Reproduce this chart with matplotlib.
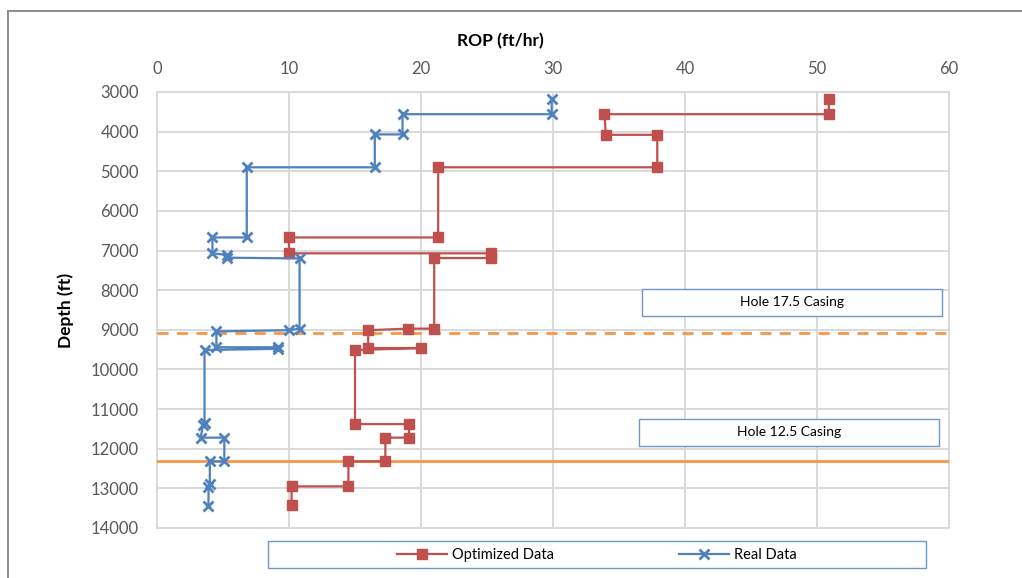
import matplotlib
matplotlib.use("Agg")
import matplotlib.pyplot as plt
from matplotlib.patches import Rectangle
from matplotlib.lines import Line2D

# ---------------- data ----------------
opt_rop = [50.9, 50.9, 33.9, 34.0, 37.9, 37.9, 21.3, 21.3, 10.0, 10.0, 25.3, 25.3,
           21.0, 21.0, 19.0, 16.0, 16.0, 20.0, 15.0, 15.0, 19.1, 19.1, 17.3, 17.3,
           14.5, 14.5, 10.2, 10.2]
opt_depth = [3180, 3560, 3560, 4080, 4080, 4900, 4900, 6670, 6670, 7070, 7070, 7190,
             7190, 8970, 8970, 9010, 9460, 9460, 9510, 11380, 11380, 11720, 11720, 12320,
             12320, 12950, 12950, 13420]

real_rop = [29.9, 29.9, 18.6, 18.6, 16.5, 16.5, 6.8, 6.8, 4.2, 4.2, 5.3, 5.3,
            10.8, 10.8, 10.0, 4.5, 4.5, 9.2, 9.2, 3.6, 3.6, 3.5, 3.3, 5.1, 5.1,
            4.0, 4.0, 3.9, 3.9]
real_depth = [3180, 3560, 3560, 4070, 4070, 4900, 4900, 6670, 6670, 7070, 7110, 7180,
              7200, 8970, 9010, 9040, 9440, 9440, 9480, 9510, 11350, 11400, 11720, 11720,
              12320, 12320, 12900, 12970, 13440]

casing_17_depth = 9085
casing_12_depth = 12300

x_ticks = [0, 10, 20, 30, 40, 50, 60]
y_ticks = [3000, 4000, 5000, 6000, 7000, 8000, 9000, 10000, 11000, 12000, 13000, 14000]

RED = "#C0504D"
BLUE = "#4F81BD"
ORANGE = "#F79646"
GRID = "#D9D9D9"
TICK = "#595959"
FONT = ["Lato", "DejaVu Sans"]

plt.rcParams["font.family"] = FONT

W, H = 1022, 578
fig = plt.figure(figsize=(W / 100, H / 100), dpi=100)

def fx(px):
    return px / W

def fy(py):
    return 1 - py / H

# outer chart border (extends off the picture to the right and bottom)
fig.patches.append(Rectangle((fx(8), fy(640)), fx(1100) - fx(8), fy(11) - fy(640),
                             transform=fig.transFigure, fill=False,
                             edgecolor="#8C8C8C", lw=1.4, zorder=0))

ax = fig.add_axes([fx(157), fy(528), fx(949) - fx(157), fy(92) - fy(528)])

ax.plot(opt_rop, opt_depth, color=RED, lw=1.6, marker="s", markersize=7.5,
        markerfacecolor=RED, markeredgecolor=RED, label="Optimized Data", zorder=4)
ax.plot(real_rop, real_depth, color=BLUE, lw=1.6, marker="x", markersize=6.5,
        markeredgewidth=2, markeredgecolor=BLUE, label="Real Data", zorder=5)

ax.axhline(casing_17_depth, color=ORANGE, lw=2, ls=(0, (4, 3)), zorder=3)
ax.axhline(casing_12_depth, color=ORANGE, lw=2, zorder=3)

ax.set_xlim(0, 60)
ax.set_ylim(14000, 3000)
ax.set_xticks(x_ticks)
ax.set_yticks(y_ticks)
ax.xaxis.tick_top()
ax.tick_params(axis="both", length=0, labelsize=12, colors=TICK)
ax.tick_params(axis="x", pad=11)
ax.tick_params(axis="y", pad=13)
ax.grid(True, color=GRID, lw=1.4, zorder=0)
ax.set_axisbelow(True)
for s in ax.spines.values():
    s.set_color(GRID)
    s.set_linewidth(1.4)

fig.text(fx(500), fy(41), "ROP (ft/hr)", ha="center", va="center",
         fontsize=12.5, fontweight="bold", color="black")
fig.text(fx(66), fy(310), "Depth (ft)", ha="center", va="center", rotation=90,
         fontsize=12.5, fontweight="bold", color="black")

# casing annotation boxes
def label_box(x0, y0, x1, y1, text):
    fig.patches.append(Rectangle((fx(x0), fy(y1)), fx(x1) - fx(x0), fy(y0) - fy(y1),
                                 transform=fig.transFigure, facecolor="white",
                                 edgecolor="#6F94C9", lw=1.0, zorder=6))
    fig.text(fx((x0 + x1) / 2), fy((y0 + y1) / 2), text, ha="center", va="center",
             fontsize=10, color="black", zorder=7)

label_box(642, 289, 942, 316, "Hole 17.5 Casing")
label_box(639, 419, 939, 446, "Hole 12.5 Casing")

# legend
fig.patches.append(Rectangle((fx(268), fy(568)), fx(926) - fx(268), fy(541) - fy(568),
                             transform=fig.transFigure, facecolor="white",
                             edgecolor="#6F94C9", lw=1.0, zorder=1))
handles = [
    Line2D([], [], color=RED, lw=1.6, marker="s", markersize=7.5),
    Line2D([], [], color=BLUE, lw=1.6, marker="x", markersize=6.5, markeredgewidth=2),
]
fig.legend(handles, ["Optimized Data", "Real Data"], loc="center",
           bbox_to_anchor=(fx(597), fy(555)), ncol=2, frameon=False,
           fontsize=10.5, handlelength=3.4, handletextpad=0.35,
           columnspacing=8.6, borderpad=0.1)

fig.savefig("out.png", dpi=100)
